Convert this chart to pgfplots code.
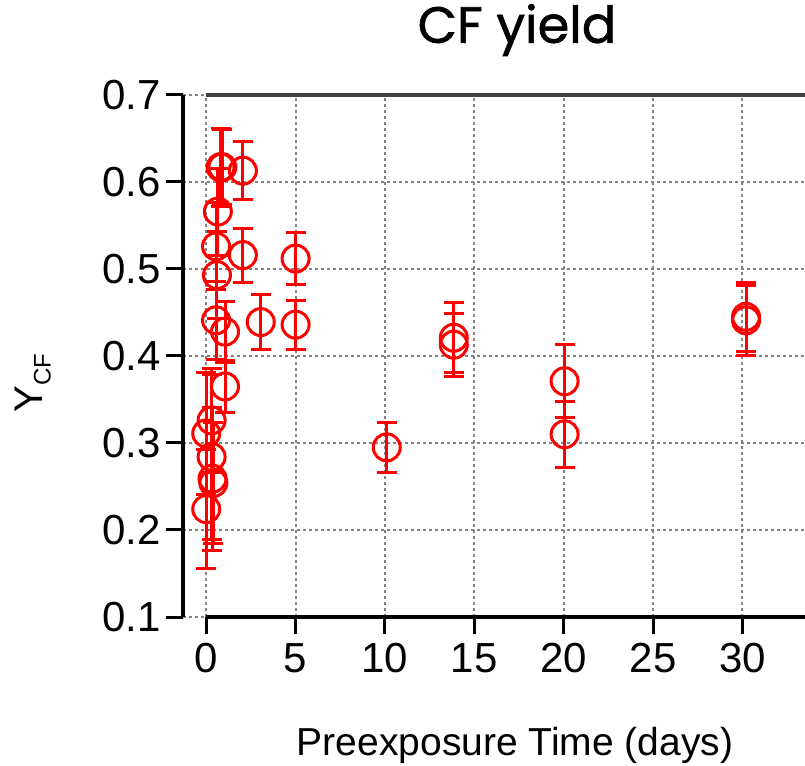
\documentclass[border=0pt]{standalone}
\usepackage{fontspec}
\setmainfont{Liberation Sans}
\newfontfamily\titlefont{Poppins}[FakeBold=1.2]
\usepackage{pgfplots}
\usepackage{pgfplotstable}
\pgfplotsset{compat=1.18}
\pgfplotstableread{
x y e
0.0 0.224 0.068
0.0 0.311 0.070
0.3 0.326 0.060
0.3 0.284 0.095
0.35 0.259 0.082
0.4 0.254 0.070
0.55 0.441 0.045
0.6 0.493 0.050
0.55 0.526 0.050
0.65 0.566 0.050
0.8 0.617 0.045
0.9 0.617 0.043
1.05 0.428 0.035
1.05 0.365 0.030
2.05 0.613 0.033
2.05 0.516 0.031
3.05 0.439 0.032
5.0 0.512 0.030
5.0 0.436 0.028
10.1 0.295 0.029
13.85 0.421 0.040
13.85 0.413 0.036
20.05 0.371 0.042
20.05 0.310 0.038
30.2 0.445 0.040
30.2 0.441 0.040
}\datatable
\definecolor{gridgray}{RGB}{130,130,130}
\begin{document}
\begin{tikzpicture}
\useasboundingbox (-183pt,-148pt) rectangle (622pt,617pt);
\begin{axis}[
  at={(0pt,0pt)}, anchor=south west,
  scale only axis, width=622pt, height=522pt,
  xmin=-1.3, xmax=33.5, ymin=0.1, ymax=0.7,
  clip=false,
  axis line style={draw=none},
  xtick={0,5,10,15,20,25,30},
  ytick={0.1,0.2,0.3,0.4,0.5,0.6,0.7},
  tick align=outside, xtick pos=bottom, ytick pos=left,
  major tick length=17pt,
  every tick/.style={black, line width=3pt},
  grid=major,
  major grid style={gridgray, dash pattern=on 3pt off 3pt, line width=2pt},
  ticklabel style={font=\fontsize{42}{46}\selectfont},
  xticklabel style={yshift=-6pt},
  yticklabel style={xshift=-2pt},
  /pgf/number format/assume math mode=true,
  yticklabel style={/pgf/number format/.cd, fixed, fixed zerofill, precision=1},
]
\draw[black, line width=3.5pt] (axis cs:-1.3,0.1) -- (axis cs:-1.3,0.7);
\draw[black, line width=3.5pt] (axis cs:0,0.1) -- (axis cs:33.5,0.1);
\draw[black!75, line width=4pt] (axis cs:0,0.7) -- (axis cs:33.5,0.7);
\addplot[red, only marks, mark=o, mark size=13.5pt,
  mark options={line width=3pt, red, solid},
  error bars/.cd, y dir=both, y explicit,
  error bar style={line width=3pt, red},
  error mark options={rotate=90, mark size=10pt, line width=3pt, red}]
  table[x=x, y=y, y error=e] {\datatable};
\end{axis}
\node[font=\titlefont\fontsize{51}{55}\selectfont] at (334pt,587pt) {CF yield};
\node[rotate=90, font=\fontsize{40}{44}\selectfont] at (-150pt,234pt) {Y\textsubscript{\fontsize{24}{26}\selectfont CF}};
\node[font=\fontsize{39}{42}\selectfont] at (332pt,-128pt) {Preexposure Time (days)};
\end{tikzpicture}
\end{document}
